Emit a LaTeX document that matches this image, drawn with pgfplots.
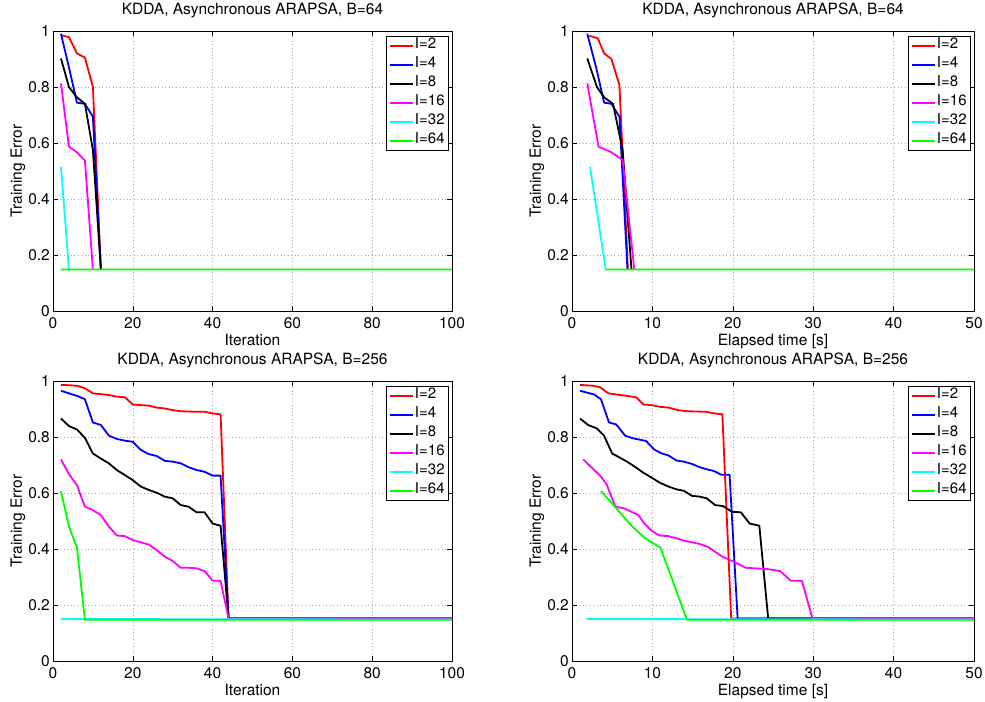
\documentclass[border=0pt]{standalone}
\usepackage{fontspec}
\setmainfont{TeX Gyre Heros}
\usepackage{pgfplots}
\pgfplotsset{compat=1.18}
\definecolor{mred}{rgb}{1,0,0}
\definecolor{mblue}{rgb}{0,0,1}
\definecolor{mblack}{rgb}{0,0,0}
\definecolor{mmag}{rgb}{1,0,1}
\definecolor{mcyan}{rgb}{0,1,1}
\definecolor{mgreen}{rgb}{0,1,0}
\newcommand{\mf}{\fontsize{15.5bp}{18bp}\selectfont}
\pgfplotsset{
  myax/.style={
    scale only axis, height=280bp,
    ymin=0, ymax=1,
    ytick={0,0.2,0.4,0.6,0.8,1},
    yticklabels={0,0.2,0.4,0.6,0.8,1},
    /pgf/number format/assume math mode=true,
    tick align=inside, major tick length=5bp,
    xtick pos=both, ytick pos=both,
    tick style={black, line width=0.6bp},
    axis line style={black, line width=0.8bp},
    grid=major,
    grid style={gray!70, line width=0.5bp, dash pattern=on 1bp off 2.5bp},
    ticklabel style={font=\mf},
    xticklabel style={anchor=base, yshift=-17bp, inner sep=0pt},
    yticklabel style={anchor=east, xshift=-3bp, inner sep=0pt},
    label style={font=\mf},
    xlabel style={at={(axis description cs:0.5,0)}, anchor=base, yshift=-34bp, inner sep=0pt},
    ylabel style={at={(axis description cs:0,0.5)}, anchor=center, yshift=35bp, inner sep=0pt},
    title style={font=\mf, at={(axis description cs:0.5,1)}, anchor=base, yshift=11bp, inner sep=0pt},
    ylabel={Training Error},
    legend cell align=left,
    legend image code/.code={\draw[##1] (0bp,0bp) -- (23bp,0bp);},
    legend style={at={(1,1)}, anchor=north east, xshift=-3bp, yshift=-5bp,
      draw=black, line width=0.8bp, font=\fontsize{15bp}{18bp}\selectfont,
      inner xsep=2.5bp, inner ysep=0bp, row sep=0bp,
      nodes={inner xsep=1.5bp, inner ysep=0bp, text height=12.5bp, text depth=6.5bp}},
    every axis plot/.append style={line width=1.8bp, line join=round},
  },
}
\begin{document}
\begin{tikzpicture}
\path[use as bounding box] (0,0) rectangle (985bp,-702bp);
% Top-left
\begin{axis}[myax, width=399bp, at={(53bp,-311bp)}, anchor=south west,
  xmin=0, xmax=100, xtick={0,20,40,60,80,100},
  xlabel={Iteration}, title={KDDA, Asynchronous ARAPSA, B=64}]
\addplot[mred] coordinates {(2,0.985)(4,0.978)(6,0.92)(8,0.905)(10,0.80)(12,0.148)};
\addplot[mblue] coordinates {(2,0.99)(4,0.87)(6,0.744)(8,0.74)(10,0.694)(12,0.148)};
\addplot[mblack] coordinates {(2,0.902)(4,0.80)(6,0.763)(8,0.74)(10,0.575)(12,0.148)};
\addplot[mmag] coordinates {(2,0.813)(4,0.587)(6,0.567)(8,0.537)(10,0.148)};
\addplot[mcyan] coordinates {(2,0.515)(4,0.148)};
\addplot[mgreen] coordinates {(2,0.1484)(50,0.148)(100,0.1479)};
\legend{I=2,I=4,I=8,I=16,I=32,I=64}
\end{axis}
% Top-right
\begin{axis}[myax, width=402bp, at={(572bp,-311bp)}, anchor=south west,
  xmin=0, xmax=50, xtick={0,10,20,30,40,50},
  xlabel={Elapsed time [s]}, title={KDDA, Asynchronous ARAPSA, B=64}]
\addplot[mred] coordinates {(2.15,0.983)(3.2,0.974)(4.0,0.92)(4.9,0.90)(5.9,0.807)(6.95,0.148)};
\addplot[mblue] coordinates {(1.9,0.99)(3.0,0.87)(4.0,0.744)(4.9,0.74)(5.9,0.694)(6.9,0.148)};
\addplot[mblack] coordinates {(1.9,0.902)(3.1,0.80)(4.0,0.763)(5.1,0.74)(6.3,0.575)(7.4,0.148)};
\addplot[mmag] coordinates {(1.9,0.813)(3.3,0.587)(4.9,0.567)(6.3,0.539)(7.75,0.148)};
\addplot[mcyan] coordinates {(2.24,0.515)(4.2,0.148)};
\addplot[mgreen] coordinates {(4.2,0.1484)(25,0.148)(50,0.1479)};
\legend{I=2,I=4,I=8,I=16,I=32,I=64}
\end{axis}
% Bottom-left
\begin{axis}[myax, width=399bp, at={(53bp,-661bp)}, anchor=south west,
  xmin=0, xmax=100, xtick={0,20,40,60,80,100},
  xlabel={Iteration}, title={KDDA, Asynchronous ARAPSA, B=256}]
\addplot[mred] coordinates {(2,0.986)(4,0.985)(6,0.983)(8,0.974)(10,0.956)(12,0.953)(14,0.950)(16,0.944)(18,0.942)(20,0.916)(22,0.914)(24,0.912)(26,0.905)(28,0.902)(30,0.896)(32,0.892)(34,0.891)(36,0.890)(38,0.890)(40,0.884)(42,0.881)(44,0.152)(100,0.152)};
\addplot[mblue] coordinates {(2,0.965)(4,0.956)(6,0.947)(8,0.935)(10,0.852)(12,0.843)(14,0.805)(16,0.793)(18,0.787)(20,0.783)(22,0.754)(24,0.739)(26,0.732)(28,0.715)(30,0.712)(32,0.706)(34,0.692)(36,0.682)(38,0.676)(40,0.662)(42,0.662)(44,0.152)(100,0.152)};
\addplot[mblack] coordinates {(2,0.866)(4,0.839)(6,0.827)(8,0.797)(10,0.741)(12,0.723)(14,0.706)(16,0.682)(18,0.664)(20,0.646)(22,0.623)(24,0.611)(26,0.601)(28,0.587)(30,0.581)(32,0.557)(34,0.551)(36,0.531)(38,0.531)(40,0.491)(42,0.483)(44,0.152)(100,0.152)};
\addplot[mmag] coordinates {(2,0.720)(4,0.667)(6,0.628)(8,0.551)(10,0.539)(12,0.521)(14,0.480)(16,0.448)(18,0.446)(20,0.432)(22,0.424)(24,0.416)(26,0.396)(28,0.373)(30,0.357)(32,0.333)(34,0.333)(36,0.331)(38,0.321)(40,0.287)(42,0.286)(44,0.152)(100,0.152)};
\addplot[mcyan] coordinates {(2,0.150)(100,0.148)};
\addplot[mgreen] coordinates {(2,0.607)(4,0.480)(6,0.405)(8,0.147)(100,0.147)};
\legend{I=2,I=4,I=8,I=16,I=32,I=64}
\end{axis}
% Bottom-right
\begin{axis}[myax, width=402bp, at={(572bp,-661bp)}, anchor=south west,
  xmin=0, xmax=50, xtick={0,10,20,30,40,50},
  xlabel={Elapsed time [s]}, title={KDDA, Asynchronous ARAPSA, B=256}]
\addplot[mred] coordinates {(1.0,0.986)(2.65,0.983)(3.56,0.977)(4.5,0.956)(5.97,0.950)(7.0,0.946)(7.96,0.942)(8.9,0.916)(9.9,0.914)(10.9,0.908)(12.0,0.905)(13.2,0.896)(14.3,0.892)(16.7,0.890)(17.8,0.884)(18.7,0.881)(19.8,0.152)(50,0.152)};
\addplot[mblue] coordinates {(1.0,0.965)(1.8,0.959)(2.74,0.952)(3.6,0.935)(4.6,0.852)(5.5,0.845)(6.6,0.805)(7.5,0.796)(8.5,0.790)(9.2,0.786)(10.2,0.756)(11.1,0.742)(12.0,0.734)(13.0,0.716)(13.9,0.712)(14.9,0.704)(15.9,0.692)(16.7,0.685)(17.6,0.679)(18.6,0.665)(19.6,0.665)(20.6,0.152)(50,0.152)};
\addplot[mblack] coordinates {(1.0,0.866)(2.0,0.843)(3.07,0.831)(3.98,0.805)(5.0,0.741)(5.97,0.726)(6.9,0.711)(7.8,0.694)(8.9,0.672)(9.9,0.655)(10.9,0.637)(12.0,0.623)(13.0,0.613)(13.9,0.608)(14.9,0.590)(15.9,0.587)(16.75,0.581)(17.8,0.557)(18.8,0.553)(19.9,0.533)(21.0,0.531)(22.1,0.491)(23.3,0.483)(24.4,0.152)(50,0.152)};
\addplot[mmag] coordinates {(1.4,0.720)(2.65,0.685)(3.5,0.662)(4.3,0.631)(5.4,0.551)(6.5,0.545)(7.4,0.533)(8.25,0.521)(9.0,0.491)(9.9,0.465)(10.9,0.448)(12.0,0.446)(13.0,0.438)(13.9,0.430)(14.9,0.424)(15.9,0.418)(17.0,0.406)(17.8,0.390)(18.7,0.373)(19.6,0.361)(20.1,0.355)(21.6,0.333)(24.4,0.328)(25.9,0.321)(27.2,0.287)(28.6,0.286)(29.9,0.152)(50,0.152)};
\addplot[mcyan] coordinates {(1.8,0.150)(50,0.148)};
\addplot[mgreen] coordinates {(3.6,0.607)(5.35,0.551)(7.4,0.483)(9.1,0.438)(11.0,0.405)(14.3,0.147)(50,0.147)};
\legend{I=2,I=4,I=8,I=16,I=32,I=64}
\end{axis}
\end{tikzpicture}
\end{document}
